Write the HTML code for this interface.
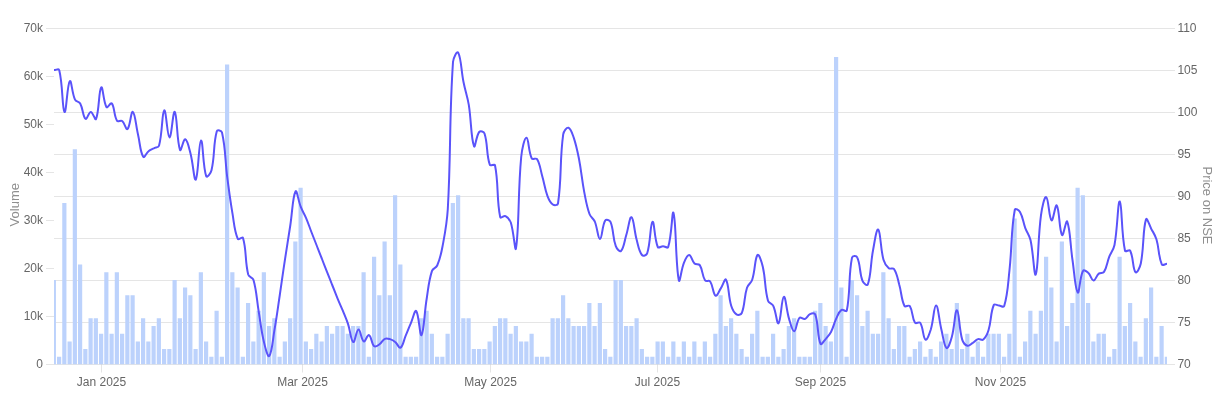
<!DOCTYPE html><html><head><meta charset="utf-8"><title>Chart</title><style>html,body{margin:0;padding:0;background:#fff}svg{display:block}text{font-family:"Liberation Sans",Arial,sans-serif}</style></head><body>
<svg width="1216" height="405" viewBox="0 0 1216 405">
<rect width="1216" height="405" fill="#fff"/>
<path d="M54 28.5H1175M54 70.5H1175M54 112.5H1175M54 154.5H1175M54 196.5H1175M54 238.5H1175M54 280.5H1175M54 322.5H1175M54 364.5H1175M46 364.5H54M46 316.5H54M46 268.5H54M46 220.5H54M46 172.5H54M46 124.5H54M46 76.5H54M46 28.5H54M101.5 364.5V372.5M302.5 364.5V372.5M490.5 364.5V372.5M657.5 364.5V372.5M820.5 364.5V372.5M1000.5 364.5V372.5" stroke="#000" stroke-opacity="0.1" stroke-width="1" fill="none"/>
<defs><clipPath id="c"><rect x="54" y="28.5" width="1113" height="336"/></clipPath></defs>
<g clip-path="url(#c)">
<path d="M51.75 364.5h4.2v-84.59h-4.2zM57 364.5h4.2v-7.69h-4.2zM62.25 364.5h4.2v-161.49h-4.2zM67.5 364.5h4.2v-23.07h-4.2zM72.75 364.5h4.2v-215.32h-4.2zM78 364.5h4.2v-99.97h-4.2zM83.25 364.5h4.2v-15.38h-4.2zM88.5 364.5h4.2v-46.14h-4.2zM93.75 364.5h4.2v-46.14h-4.2zM99 364.5h4.2v-30.76h-4.2zM104.25 364.5h4.2v-92.28h-4.2zM109.5 364.5h4.2v-30.76h-4.2zM114.75 364.5h4.2v-92.28h-4.2zM120 364.5h4.2v-30.76h-4.2zM125.25 364.5h4.2v-69.21h-4.2zM130.5 364.5h4.2v-69.21h-4.2zM135.75 364.5h4.2v-23.07h-4.2zM141 364.5h4.2v-46.14h-4.2zM146.25 364.5h4.2v-23.07h-4.2zM151.5 364.5h4.2v-38.45h-4.2zM156.75 364.5h4.2v-46.14h-4.2zM162 364.5h4.2v-15.38h-4.2zM167.25 364.5h4.2v-15.38h-4.2zM172.5 364.5h4.2v-84.59h-4.2zM177.75 364.5h4.2v-46.14h-4.2zM183 364.5h4.2v-76.9h-4.2zM188.25 364.5h4.2v-69.21h-4.2zM193.5 364.5h4.2v-15.38h-4.2zM198.75 364.5h4.2v-92.28h-4.2zM204 364.5h4.2v-23.07h-4.2zM209.25 364.5h4.2v-7.69h-4.2zM214.5 364.5h4.2v-53.83h-4.2zM219.75 364.5h4.2v-7.69h-4.2zM225 364.5h4.2v-299.91h-4.2zM230.25 364.5h4.2v-92.28h-4.2zM235.5 364.5h4.2v-76.9h-4.2zM240.75 364.5h4.2v-7.69h-4.2zM246 364.5h4.2v-61.52h-4.2zM251.25 364.5h4.2v-23.07h-4.2zM256.5 364.5h4.2v-53.83h-4.2zM261.75 364.5h4.2v-92.28h-4.2zM267 364.5h4.2v-38.45h-4.2zM272.25 364.5h4.2v-46.14h-4.2zM277.5 364.5h4.2v-7.69h-4.2zM282.75 364.5h4.2v-23.07h-4.2zM288 364.5h4.2v-46.14h-4.2zM293.25 364.5h4.2v-123.04h-4.2zM298.5 364.5h4.2v-176.87h-4.2zM303.75 364.5h4.2v-23.07h-4.2zM309 364.5h4.2v-15.38h-4.2zM314.25 364.5h4.2v-30.76h-4.2zM319.5 364.5h4.2v-23.07h-4.2zM324.75 364.5h4.2v-38.45h-4.2zM330 364.5h4.2v-30.76h-4.2zM335.25 364.5h4.2v-38.45h-4.2zM340.5 364.5h4.2v-38.45h-4.2zM345.75 364.5h4.2v-30.76h-4.2zM351 364.5h4.2v-38.45h-4.2zM356.25 364.5h4.2v-38.45h-4.2zM361.5 364.5h4.2v-92.28h-4.2zM366.75 364.5h4.2v-7.69h-4.2zM372 364.5h4.2v-107.66h-4.2zM377.25 364.5h4.2v-69.21h-4.2zM382.5 364.5h4.2v-123.04h-4.2zM387.75 364.5h4.2v-69.21h-4.2zM393 364.5h4.2v-169.18h-4.2zM398.25 364.5h4.2v-99.97h-4.2zM403.5 364.5h4.2v-7.69h-4.2zM408.75 364.5h4.2v-7.69h-4.2zM414 364.5h4.2v-7.69h-4.2zM419.25 364.5h4.2v-46.14h-4.2zM424.5 364.5h4.2v-53.83h-4.2zM429.75 364.5h4.2v-30.76h-4.2zM435 364.5h4.2v-7.69h-4.2zM440.25 364.5h4.2v-7.69h-4.2zM445.5 364.5h4.2v-30.76h-4.2zM450.75 364.5h4.2v-161.49h-4.2zM456 364.5h4.2v-169.18h-4.2zM461.25 364.5h4.2v-46.14h-4.2zM466.5 364.5h4.2v-46.14h-4.2zM471.75 364.5h4.2v-15.38h-4.2zM477 364.5h4.2v-15.38h-4.2zM482.25 364.5h4.2v-15.38h-4.2zM487.5 364.5h4.2v-23.07h-4.2zM492.75 364.5h4.2v-38.45h-4.2zM498 364.5h4.2v-46.14h-4.2zM503.25 364.5h4.2v-46.14h-4.2zM508.5 364.5h4.2v-30.76h-4.2zM513.75 364.5h4.2v-38.45h-4.2zM519 364.5h4.2v-23.07h-4.2zM524.25 364.5h4.2v-23.07h-4.2zM529.5 364.5h4.2v-30.76h-4.2zM534.75 364.5h4.2v-7.69h-4.2zM540 364.5h4.2v-7.69h-4.2zM545.25 364.5h4.2v-7.69h-4.2zM550.5 364.5h4.2v-46.14h-4.2zM555.75 364.5h4.2v-46.14h-4.2zM561 364.5h4.2v-69.21h-4.2zM566.25 364.5h4.2v-46.14h-4.2zM571.5 364.5h4.2v-38.45h-4.2zM576.75 364.5h4.2v-38.45h-4.2zM582 364.5h4.2v-38.45h-4.2zM587.25 364.5h4.2v-61.52h-4.2zM592.5 364.5h4.2v-38.45h-4.2zM597.75 364.5h4.2v-61.52h-4.2zM603 364.5h4.2v-15.38h-4.2zM608.25 364.5h4.2v-7.69h-4.2zM613.5 364.5h4.2v-84.59h-4.2zM618.75 364.5h4.2v-84.59h-4.2zM624 364.5h4.2v-38.45h-4.2zM629.25 364.5h4.2v-38.45h-4.2zM634.5 364.5h4.2v-46.14h-4.2zM639.75 364.5h4.2v-15.38h-4.2zM645 364.5h4.2v-7.69h-4.2zM650.25 364.5h4.2v-7.69h-4.2zM655.5 364.5h4.2v-23.07h-4.2zM660.75 364.5h4.2v-23.07h-4.2zM666 364.5h4.2v-7.69h-4.2zM671.25 364.5h4.2v-23.07h-4.2zM676.5 364.5h4.2v-7.69h-4.2zM681.75 364.5h4.2v-23.07h-4.2zM687 364.5h4.2v-7.69h-4.2zM692.25 364.5h4.2v-23.07h-4.2zM697.5 364.5h4.2v-7.69h-4.2zM702.75 364.5h4.2v-23.07h-4.2zM708 364.5h4.2v-7.69h-4.2zM713.25 364.5h4.2v-30.76h-4.2zM718.5 364.5h4.2v-69.21h-4.2zM723.75 364.5h4.2v-38.45h-4.2zM729 364.5h4.2v-46.14h-4.2zM734.25 364.5h4.2v-30.76h-4.2zM739.5 364.5h4.2v-15.38h-4.2zM744.75 364.5h4.2v-7.69h-4.2zM750 364.5h4.2v-30.76h-4.2zM755.25 364.5h4.2v-53.83h-4.2zM760.5 364.5h4.2v-7.69h-4.2zM765.75 364.5h4.2v-7.69h-4.2zM771 364.5h4.2v-30.76h-4.2zM776.25 364.5h4.2v-7.69h-4.2zM781.5 364.5h4.2v-15.38h-4.2zM786.75 364.5h4.2v-38.45h-4.2zM792 364.5h4.2v-46.14h-4.2zM797.25 364.5h4.2v-7.69h-4.2zM802.5 364.5h4.2v-7.69h-4.2zM807.75 364.5h4.2v-7.69h-4.2zM813 364.5h4.2v-53.83h-4.2zM818.25 364.5h4.2v-61.52h-4.2zM823.5 364.5h4.2v-38.45h-4.2zM828.75 364.5h4.2v-23.07h-4.2zM834 364.5h4.2v-307.6h-4.2zM839.25 364.5h4.2v-76.9h-4.2zM844.5 364.5h4.2v-7.69h-4.2zM849.75 364.5h4.2v-84.59h-4.2zM855 364.5h4.2v-69.21h-4.2zM860.25 364.5h4.2v-38.45h-4.2zM865.5 364.5h4.2v-53.83h-4.2zM870.75 364.5h4.2v-30.76h-4.2zM876 364.5h4.2v-30.76h-4.2zM881.25 364.5h4.2v-92.28h-4.2zM886.5 364.5h4.2v-46.14h-4.2zM891.75 364.5h4.2v-15.38h-4.2zM897 364.5h4.2v-38.45h-4.2zM902.25 364.5h4.2v-38.45h-4.2zM907.5 364.5h4.2v-7.69h-4.2zM912.75 364.5h4.2v-15.38h-4.2zM918 364.5h4.2v-23.07h-4.2zM923.25 364.5h4.2v-7.69h-4.2zM928.5 364.5h4.2v-15.38h-4.2zM933.75 364.5h4.2v-7.69h-4.2zM939 364.5h4.2v-23.07h-4.2zM944.25 364.5h4.2v-30.76h-4.2zM949.5 364.5h4.2v-15.38h-4.2zM954.75 364.5h4.2v-61.52h-4.2zM960 364.5h4.2v-15.38h-4.2zM965.25 364.5h4.2v-30.76h-4.2zM970.5 364.5h4.2v-7.69h-4.2zM975.75 364.5h4.2v-23.07h-4.2zM981 364.5h4.2v-7.69h-4.2zM986.25 364.5h4.2v-30.76h-4.2zM991.5 364.5h4.2v-30.76h-4.2zM996.75 364.5h4.2v-30.76h-4.2zM1002 364.5h4.2v-7.69h-4.2zM1007.25 364.5h4.2v-30.76h-4.2zM1012.5 364.5h4.2v-146.11h-4.2zM1017.75 364.5h4.2v-7.69h-4.2zM1023 364.5h4.2v-23.07h-4.2zM1028.25 364.5h4.2v-53.83h-4.2zM1033.5 364.5h4.2v-30.76h-4.2zM1038.75 364.5h4.2v-53.83h-4.2zM1044 364.5h4.2v-107.66h-4.2zM1049.25 364.5h4.2v-76.9h-4.2zM1054.5 364.5h4.2v-23.07h-4.2zM1059.75 364.5h4.2v-123.04h-4.2zM1065 364.5h4.2v-38.45h-4.2zM1070.25 364.5h4.2v-61.52h-4.2zM1075.5 364.5h4.2v-176.87h-4.2zM1080.75 364.5h4.2v-169.18h-4.2zM1086 364.5h4.2v-61.52h-4.2zM1091.25 364.5h4.2v-23.07h-4.2zM1096.5 364.5h4.2v-30.76h-4.2zM1101.75 364.5h4.2v-30.76h-4.2zM1107 364.5h4.2v-7.69h-4.2zM1112.25 364.5h4.2v-15.38h-4.2zM1117.5 364.5h4.2v-107.66h-4.2zM1122.75 364.5h4.2v-38.45h-4.2zM1128 364.5h4.2v-61.52h-4.2zM1133.25 364.5h4.2v-23.07h-4.2zM1138.5 364.5h4.2v-7.69h-4.2zM1143.75 364.5h4.2v-46.14h-4.2zM1149 364.5h4.2v-76.9h-4.2zM1154.25 364.5h4.2v-7.69h-4.2zM1159.5 364.5h4.2v-38.45h-4.2zM1164.75 364.5h4.2v-7.69h-4.2z" fill="#bcd2fc"/>
<path d="M54 70.1C56.1 70.1 58.8 68.2 59.2 70C63 84.9 62.1 109.4 64.5 112C66.3 113.9 67.2 84.1 69.8 81.1C71.4 79.2 71.9 93 75 99.7C76.1 102 79 101.3 80.2 103.5C83.2 109 82.8 116.6 85.5 118.8C87 120 88.7 111.9 90.8 111.9C92.9 111.9 95.1 121.1 96 119C99.3 111.3 98.7 90.2 101.2 87.3C102.9 85.4 103.3 102.2 106.5 107.1C107.5 108.6 110.6 102 111.8 103.4C114.8 107.4 113.7 115.2 117 120.7C117.9 122.3 120.8 119.8 122.2 121C125 123.2 126 130.4 127.5 129.1C130.2 126.7 130.9 111 132.8 111.9C135.1 113.1 135.9 125.5 138 134.5C140.1 143.4 140.1 151.8 143.2 156.8C144.3 158.5 146.1 153.1 148.5 151.2C150.3 149.7 151.6 149.4 153.8 148.3C155.8 147.2 158.4 147.8 159 145.7C162.6 132.7 161.9 112.3 164.2 110.4C166.1 109 167.3 137.1 169.5 137.4C171.5 137.7 173 109.8 174.8 111.8C177.2 114.8 176.8 141.4 180 149.8C181 152.4 183.4 138.7 185.2 139.3C187.6 140.1 189 147.7 190.5 153.5C193.2 163.7 194.1 181.6 195.8 179.5C198.3 176.4 198.8 141.1 201 140.4C203 139.8 202.8 166.4 206.2 176.2C207 178.3 210.8 173.3 211.5 170.3C215 155.3 213.1 144.6 216.8 131.3C217.3 129.5 221.5 130.6 222 132.6C225.7 148.9 225 159.3 227.2 177C229.2 191.7 230 199 232.5 213.6C234.2 223.7 234.3 230.7 237.8 238.8C238.5 240.5 242.5 236.2 243 238C246.7 250.5 244.8 260.6 248.2 274.5C249 277.4 252.7 277.2 253.5 280C256.9 292.2 256.6 299.3 258.8 312.1C260.8 324.2 261.2 330.4 264 342.3C265.4 348 267.8 357.8 269.2 356C272 352.7 272.7 340.3 274.5 329.7C276.9 315.9 277.7 308.9 279.8 295C281.9 280.7 282.8 273.6 285 259.3C287 246 288.2 239.3 290.2 226C292.4 212.2 292.6 196.6 295.5 191.4C296.8 189 298.3 200.8 300.8 206.9C302.5 211.4 304.1 213.4 306 217.8C308.3 223.2 309.1 226 311.2 231.5C313.3 236.9 314.4 239.6 316.5 245C318.6 250.4 319.6 253.1 321.8 258.5C323.8 263.9 324.9 266.5 327 271.9C329.1 277.1 330.2 279.8 332.2 285C334.4 290.3 335.3 293 337.5 298.3C339.5 303.2 340.7 305.7 342.8 310.6C344.9 315.9 346.2 318.5 348 323.9C350.4 331 350.8 340.7 353.2 342C355 343 356.3 329.7 358.5 329.6C360.5 329.5 361.2 340 363.8 341.3C365.4 342.2 367.3 334.3 369 335.1C371.5 336.3 371.4 343.8 374.2 346.3C375.6 347.4 377.7 345.6 379.5 344.3C381.9 342.6 382.3 340 384.8 338.8C386.5 337.9 388 338.5 390 339.1C392.2 339.8 393.4 340.5 395.2 342C397.6 343.9 399 348.7 400.5 347.7C403.2 346 403.7 340.3 405.8 335.4C407.9 330.4 408.8 327.8 411 322.8C413 318.1 414.8 309.3 416.2 311C419 314.2 419.8 337.1 421.5 335C424 331.9 424.3 312.7 426.8 298C428.5 287.1 428.7 281.1 432 270.9C432.9 268.1 436.1 268.2 437.2 265.5C440.3 258.4 441.1 254.2 442.5 246.5C445.3 231.6 446.9 224.1 447.8 209C451.1 150.3 449.1 120.3 453 62C453.3 57.7 457.1 50.5 458.2 52.6C461.3 58.5 461.1 70.3 463.5 82C465.3 91.2 467.2 95.6 468.8 104.8C471.4 121.3 470.9 138.2 474 146.2C475.1 149.1 476.2 135.7 479.2 132C480.4 130.7 483.9 131.6 484.5 133.5C488.1 144.7 486.1 153.9 489.8 164.8C490.3 166.6 494.6 163.4 495 165.3C498.8 184.3 496.4 198.6 500.2 217.1C500.6 219 503.8 215.3 505.5 216.2C508 217.5 509.7 219.5 510.8 222.5C513.9 232.3 515.1 254 516 248.2C519.3 227.8 517.8 193.3 521.2 157C522 149.1 524.5 137.5 526.5 137.8C528.7 138.1 528.4 151.7 531.8 158.5C532.6 160.2 536 157.5 537 159.1C540.2 164.5 540.3 169.2 542.2 176C544.5 184 544.7 188.4 547.5 196.1C548.9 199.8 550 202.6 552.8 204.5C554.2 205.5 557.7 205.5 558 203.5C561.9 177.5 559.5 161.4 563.2 134.4C563.7 131.1 566.7 127.1 568.5 127.7C570.9 128.5 572.3 133.5 573.8 137.8C576.5 146 577.3 150.4 579 159C581.5 172.1 581.8 178.8 584.2 191.9C586 200.8 586.5 205.6 589.5 214C590.7 217.4 593.3 218.2 594.8 221.5C597.5 228.2 598 239.2 600 239C602.2 238.8 602 225.8 605.2 220.5C606.2 219 609.7 220.1 610.5 221.9C613.9 230.3 612.5 237.1 615.8 246.2C616.7 248.8 619.7 252.3 621 251C623.9 248 624.3 241.6 626.2 235.3C628.5 228.1 629.6 216.3 631.5 217.2C633.8 218.3 634.2 231.2 636.8 240.3C638.4 246.3 638.9 251.2 642 255C643.1 256.4 646.6 255.3 647.2 253.3C650.8 242 650.2 223.3 652.5 221.9C654.4 220.8 654.3 238.9 657.8 247C658.5 248.7 660.9 246.2 663 246.2C665.1 246.2 667.7 248.8 668.2 247C671.9 235.5 672.1 208.5 673.5 213C676.3 221.8 675.5 264.7 678.8 280.3C679.7 284.6 681.2 269.3 684 262.6C685.4 259.2 687.2 254.8 689.2 255C691.4 255.2 691.8 260.9 694.5 263.5C696 264.9 698.7 263.4 699.8 265.1C702.9 270.1 701.9 275.3 705 280.2C706.1 281.9 709.1 279.9 710.2 281.5C713.3 286.1 712.9 294 715.5 295.7C717.1 296.7 718.8 291.4 720.8 288.4C723 285 724.8 277.8 726 279.7C729 284.7 728.2 295.7 731.2 305.7C732.4 309.5 733.8 312.5 736.5 314.4C738 315.4 741 314.9 741.8 313C745.2 304.2 743.9 297.4 747 287.7C748.1 284.1 751.1 283.3 752.2 279.7C755.3 270.2 754.7 258.4 757.5 255C758.9 253.3 761.6 261.8 762.8 266.8C765.8 280.1 764.5 287.9 768 300.7C768.7 303.4 772.1 303.1 773.2 305.7C776.3 312.2 776.8 324.7 778.5 323.3C781 321.2 781.5 297.9 783.8 296.9C785.7 296 786.4 310.1 789 318.6C790.6 323.8 792.2 331.4 794.2 331.2C796.4 331 796.4 321.4 799.5 317.8C800.6 316.5 803 319.6 804.8 319C807.2 318.2 807.6 315.2 810 314.1C811.8 313.3 814.6 312.6 815.2 314.4C818.8 324.5 817.1 335.9 820.5 343.8C821.3 345.7 823.8 341 825.8 338.8C828 336.2 829.4 335 831 332C833.6 326.9 833.8 323.8 836.2 318.6C838 314.9 838.7 312 841.5 309.9C842.9 308.8 846.4 312.5 846.8 310.6C850.6 291.6 848.2 277 852 257.6C852.4 255.7 856.5 255.6 857.2 257.3C860.7 264.9 859.2 272.2 862.5 280.8C863.4 283.1 867.1 286.4 867.8 284.5C871.3 274.3 870.4 264 873 250.5C874.6 242 876.5 228.1 878.2 229.6C880.7 231.8 880.3 248.1 883.5 259.8C884.5 263.6 886 265.8 888.8 268.2C890.2 269.5 893 267.4 894 269C897.2 273.9 897.5 278.2 899.2 284.5C901.7 293 901.1 299 904.5 306C905.3 307.6 908.8 304.5 909.8 306C913 311.2 911.8 317.6 915 322.8C916 324.3 919.3 321.3 920.2 322.8C923.5 328 922.9 338 925.5 339.6C927.1 340.7 929.4 333.8 930.8 329.5C933.6 320.2 933.9 305.7 936 305.5C938.1 305.3 939 319.5 941.2 328.7C943.2 336.5 943.9 345.9 946.5 348C948.1 349.3 950.5 341.7 951.8 337C954.7 326.5 955 309.7 957 310.2C959.2 310.7 958.9 328.4 962.2 339.6C963.1 342.6 965.1 345 967.5 345.8C969.3 346.4 970.7 344.2 972.8 342.9C974.9 341.5 975.7 339.8 978 339.1C979.9 338.5 981.9 340.8 983.2 339.6C986.1 337.2 987.3 334.3 988.5 330.3C991.5 320.5 990.3 313.2 993.8 305C994.5 303.3 996.9 305.4 999 305.6C1001.1 305.8 1003.7 307.8 1004.2 306C1007.9 293.6 1007.9 284.5 1009.5 270C1012.1 246 1010.9 231.1 1014.8 209.8C1015.1 207.8 1018.9 210.1 1020 211.9C1023.1 217.3 1022.9 221.5 1025.2 227.8C1027.1 232.8 1029.3 234.9 1030.5 240C1033.5 253.5 1034.2 278.1 1035.8 274.4C1038.4 268.1 1037.8 238.7 1041 215.2C1042 207.8 1044.4 196.2 1046.2 197.1C1048.6 198.2 1049 218.3 1051.5 220.3C1053.2 221.6 1055.3 203.5 1056.8 205.5C1059.5 209.4 1059.2 230.6 1062 235C1063.4 237.1 1066.1 218.9 1067.2 221.6C1070.3 228.9 1070.2 244.7 1072.5 260C1074.4 273 1075.2 289.9 1077.8 292.5C1079.4 294.3 1079.6 277.3 1083 271C1083.8 269.4 1086.7 271.3 1088.2 272.7C1090.9 275.1 1091.3 280.4 1093.5 280.6C1095.5 280.8 1096.2 275.7 1098.8 273.6C1100.4 272.3 1102.9 273.6 1104 271.9C1107.1 266.9 1106.9 262.8 1109.2 256.8C1111.1 252 1113.5 250 1114.5 245C1117.7 227.9 1117.8 200.4 1119.8 201.5C1122 202.7 1121.2 232.9 1125 250.7C1125.4 252.6 1129.4 249.1 1130.2 250.7C1133.6 257.7 1132.6 268.7 1135.5 272.2C1136.8 273.8 1140 267.4 1140.8 263.5C1144.2 246.3 1142.6 230.6 1146 219.4C1146.8 216.7 1149.3 224.9 1151.2 228.7C1153.5 233 1155.1 234.9 1156.5 239.5C1159.3 249.2 1158.3 256.3 1161.8 264.3C1162.5 266 1164.9 264 1167 263.8" fill="none" stroke="#5a53fa" stroke-width="2" stroke-linejoin="round" stroke-linecap="butt"/>
</g>
<g font-size="12" fill="#666">
<text x="43" y="367.8" text-anchor="end">0</text>
<text x="43" y="319.8" text-anchor="end">10k</text>
<text x="43" y="271.8" text-anchor="end">20k</text>
<text x="43" y="223.8" text-anchor="end">30k</text>
<text x="43" y="175.8" text-anchor="end">40k</text>
<text x="43" y="127.8" text-anchor="end">50k</text>
<text x="43" y="79.8" text-anchor="end">60k</text>
<text x="43" y="31.8" text-anchor="end">70k</text>
<text x="1177.4" y="31.8">110</text>
<text x="1177.4" y="73.8">105</text>
<text x="1177.4" y="115.8">100</text>
<text x="1177.4" y="157.8">95</text>
<text x="1177.4" y="199.8">90</text>
<text x="1177.4" y="241.8">85</text>
<text x="1177.4" y="283.8">80</text>
<text x="1177.4" y="325.8">75</text>
<text x="1177.4" y="367.8">70</text>
<text x="101.5" y="385.7" text-anchor="middle">Jan 2025</text>
<text x="302.5" y="385.7" text-anchor="middle">Mar 2025</text>
<text x="490.5" y="385.7" text-anchor="middle">May 2025</text>
<text x="657.5" y="385.7" text-anchor="middle">Jul 2025</text>
<text x="820.5" y="385.7" text-anchor="middle">Sep 2025</text>
<text x="1000.5" y="385.7" text-anchor="middle">Nov 2025</text>
</g>
<g font-size="13" fill="#8f8f8f">
<text transform="translate(18.8 204.7) rotate(-90)" text-anchor="middle">Volume</text>
<text transform="translate(1202.8 205.5) rotate(90)" text-anchor="middle">Price on NSE</text>
</g>
</svg></body></html>
